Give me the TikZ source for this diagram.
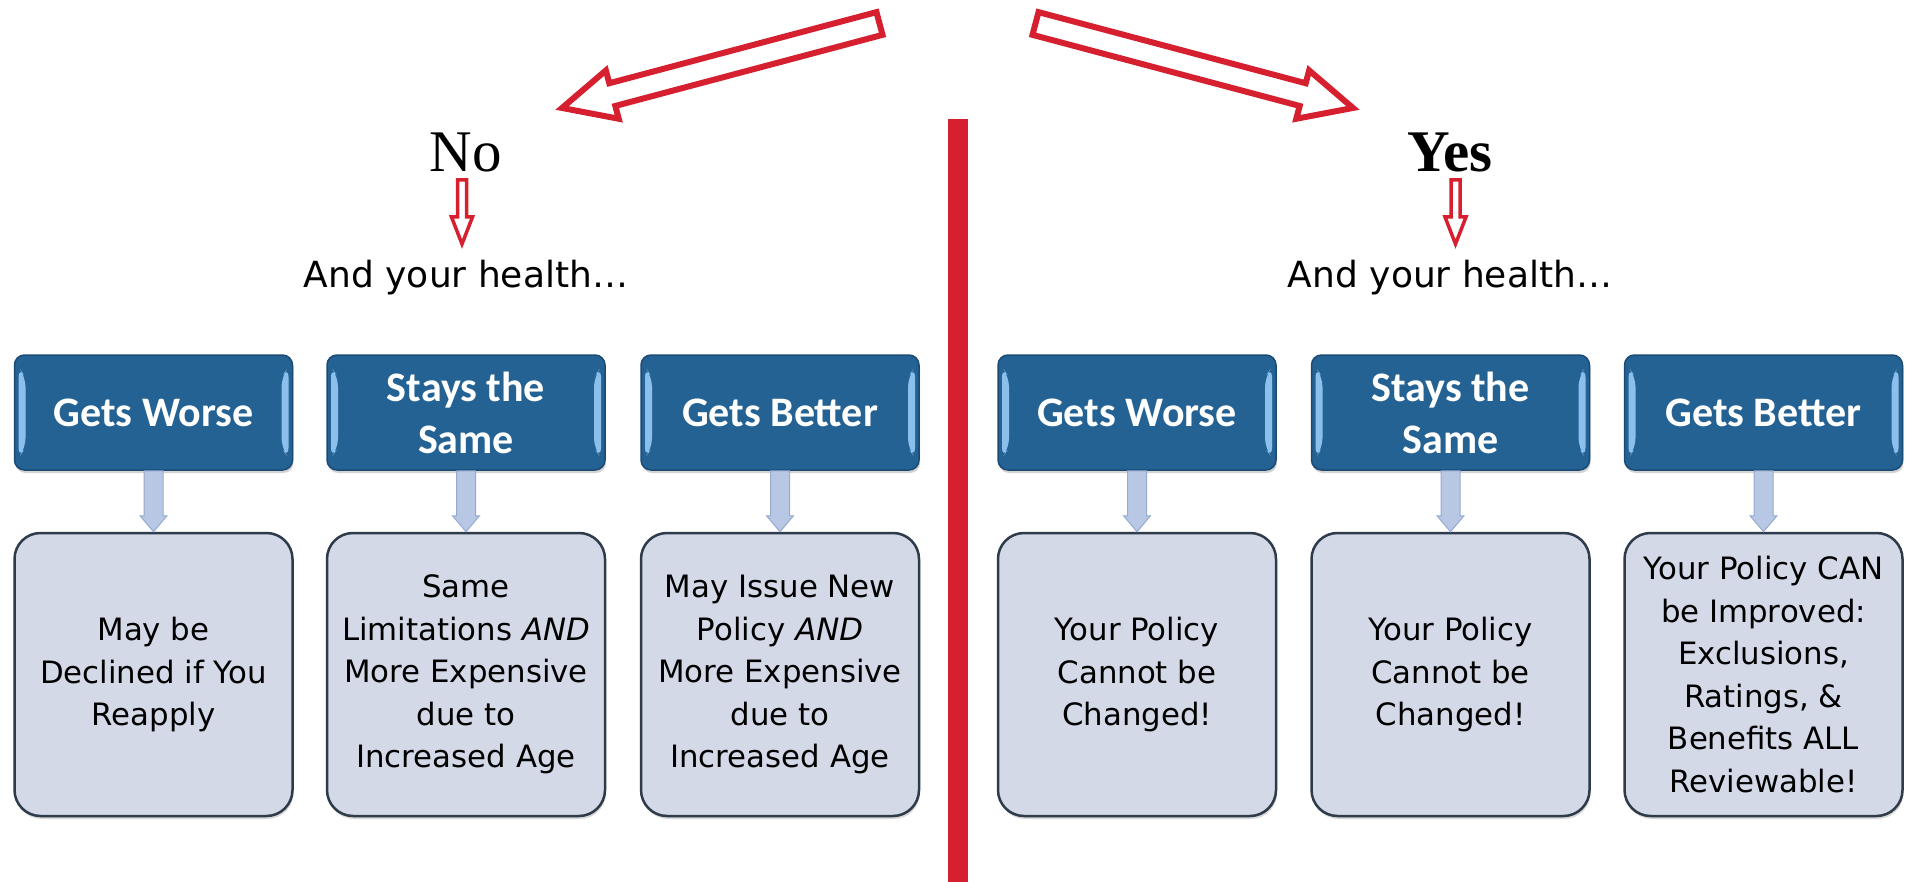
\documentclass[tikz,border=0pt]{standalone}
\usepackage{fontspec}
\usepackage{tikz}
\usetikzlibrary{calc,shadows}
\setmainfont{DejaVu Sans}
\newfontfamily\headfont{Carlito}
\newfontfamily\answerfont{Liberation Serif}
\definecolor{arrowred}{HTML}{D62030}
\definecolor{headblue}{HTML}{256294}
\definecolor{headedge}{HTML}{1B4B75}
\definecolor{headlight}{HTML}{8CC0EC}
\definecolor{outfill}{HTML}{D4D9E8}
\definecolor{outedge}{HTML}{2D3B4A}
\definecolor{linkfill}{HTML}{B8C8E4}
\definecolor{linkedge}{HTML}{94AACF}
\tikzset{
	headbox/.style={fill=headblue, draw=headedge, line width=1.5pt, rounded corners=10pt,
		minimum width=278pt, minimum height=115pt, inner sep=0pt, align=center, text=white,
		font=\headfont\bfseries\fontsize{42}{52}\selectfont,
		drop shadow={opacity=0.35, shadow xshift=1pt, shadow yshift=-3pt},
		path picture={
			\fill[headlight] ([shift={(4pt,-12pt)}]path picture bounding box.north west) -- ([shift={(11pt,-22pt)}]path picture bounding box.north west)
				-- ([shift={(11pt,22pt)}]path picture bounding box.south west) -- ([shift={(4pt,12pt)}]path picture bounding box.south west) -- cycle;
			\fill[headlight] ([shift={(-4pt,-12pt)}]path picture bounding box.north east) -- ([shift={(-11pt,-22pt)}]path picture bounding box.north east)
				-- ([shift={(-11pt,22pt)}]path picture bounding box.south east) -- ([shift={(-4pt,12pt)}]path picture bounding box.south east) -- cycle;
		}},
	outbox/.style={fill=outfill, draw=outedge, line width=2.5pt, rounded corners=26pt,
		minimum width=278pt, minimum height=283pt, inner sep=0pt, align=center,
		font=\fontsize{30.8}{42.5}\selectfont,
		drop shadow={opacity=0.3, shadow xshift=1pt, shadow yshift=-3pt},
		append after command={
			\pgfextra{\draw[white, opacity=0.55, line width=4pt, rounded corners=19pt]
				([shift={(9pt,9pt)}]\tikzlastnode.south west) rectangle ([shift={(-9pt,-9pt)}]\tikzlastnode.north east);}
		}},
	answer/.style={anchor=base, inner sep=0pt, font=\answerfont\fontsize{59}{70}\selectfont},
	health/.style={anchor=base, inner sep=0pt, font=\fontsize{36}{42}\selectfont},
	linkarrow/.style={fill=linkfill, draw=linkedge, line width=1pt},
	bigarrow/.style={draw=arrowred, fill=white, line width=6pt, line join=miter},
	smallarrow/.style={draw=arrowred, fill=white, line width=3.5pt, line join=miter},
}

\begin{document}
\begin{tikzpicture}[x=1pt,y=1pt]
	\useasboundingbox (0,0) rectangle (1913,-882);
	% split
	\fill [arrowred] (948,-119) rectangle (968,-882);
	\coordinate (tailNo) at (879.5,-23.5);
	\coordinate (tailYes) at (1035.5,-23.5);
	\begin{scope}[shift={(tailNo)}, rotate=194.9]
		\draw [bigarrow] (0,11.75) -- (276.5,11.75) -- (276.5,25) -- (328.5,0) -- (276.5,-25) -- (276.5,-11.75) -- (0,-11.75) -- cycle;
	\end{scope}
	\begin{scope}[shift={(tailYes)}, rotate=-14.9]
		\draw [bigarrow] (0,11.75) -- (276.5,11.75) -- (276.5,25) -- (328.5,0) -- (276.5,-25) -- (276.5,-11.75) -- (0,-11.75) -- cycle;
	\end{scope}
	% answers
	\node [answer] (no) at (466,-172) {No};
	\node [answer] (yes) at (1450,-172) {\bfseries Yes};
	\node [health] (healthNo) at (466,-288) {And your health…};
	\node [health] (healthYes) at (1450,-288) {And your health…};
	\draw [smallarrow] ($(no.base)+(-8.5,-8)$) -- ++(0,-37) -- ++(-6,0) -- ($(no.base)+(-4,-72)$) -- ++(10.5,27) -- ++(-6,0) -- ++(0,37) -- cycle;
	\draw [smallarrow] ($(yes.base)+(1,-8)$) -- ++(0,-37) -- ++(-6,0) -- ($(yes.base)+(5.5,-72)$) -- ++(10.5,27) -- ++(-6,0) -- ++(0,37) -- cycle;
	% headers
	\node [headbox] (worseNo) at (153.5,-412.5) {Gets Worse};
	\node [headbox] (sameNo) at (466,-412.5) {Stays the\\Same};
	\node [headbox] (betterNo) at (780,-412.5) {Gets Better};
	\node [headbox] (worseYes) at (1137,-412.5) {Gets Worse};
	\node [headbox] (sameYes) at (1450.5,-412.5) {Stays the\\Same};
	\node [headbox] (betterYes) at (1763.5,-412.5) {Gets Better};
	% outcomes
	\node [outbox] (declineNo) at (153.5,-674.5) {May be\\Declined if You\\Reapply};
	\node [outbox] (agedNo) at (466,-674.5) {Same\\Limitations \textit{AND}\\More Expensive\\due to\\Increased Age};
	\node [outbox] (reissueNo) at (780,-674.5) {May Issue New\\Policy \textit{AND}\\More Expensive\\due to\\Increased Age};
	\node [outbox] (fixedYes) at (1137,-674.5) {Your Policy\\Cannot be\\Changed!};
	\node [outbox] (keptYes) at (1450.5,-674.5) {Your Policy\\Cannot be\\Changed!};
	\node [outbox] (improveYes) at (1763.5,-674.5) {Your Policy CAN\\be Improved:\\Exclusions,\\Ratings, \&\\Benefits ALL\\Reviewable!};
	\foreach \h/\o in {worseNo/declineNo, sameNo/agedNo, betterNo/reissueNo, worseYes/fixedYes, sameYes/keptYes, betterYes/improveYes}
		\draw [linkarrow] ($(\h.south)+(-9.5,0)$) -- ($(\o.north)+(-9.5,16)$) -- ++(-4,0) -- (\o.north) -- ++(13.5,16) -- ++(-4,0) -- ($(\h.south)+(9.5,0)$) -- cycle;
\end{tikzpicture}
\end{document}
